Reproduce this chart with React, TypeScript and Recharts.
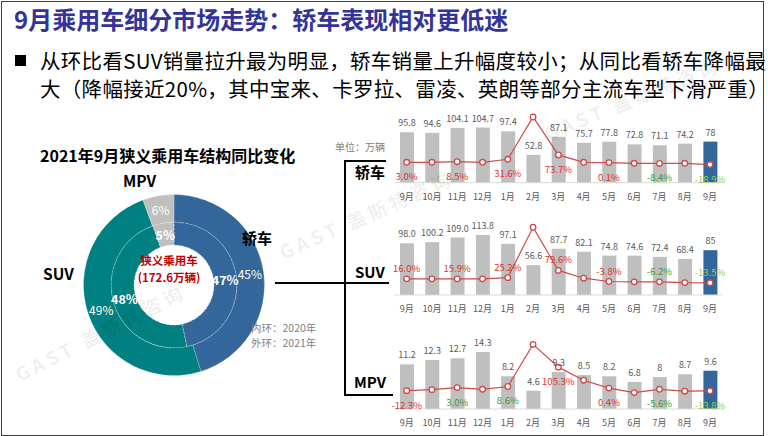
import { ComposedChart, Bar, Line, XAxis, YAxis, LabelList, Cell, PieChart, Pie } from "recharts";

const FONT = '"Noto Sans CJK SC", "Noto Sans", sans-serif';

const months = ["9月", "10月", "11月", "12月", "1月", "2月", "3月", "4月", "5月", "6月", "7月", "8月", "9月"];

// sales, 万辆 (kept as text so the labels read like the source)
const sedanSales = ["95.8", "94.6", "104.1", "104.7", "97.4", "52.8", "87.1", "75.7", "77.8", "72.8", "71.1", "74.2", "78"];
const suvSales = ["98.0", "100.2", "109.0", "113.8", "97.1", "56.6", "87.7", "82.1", "74.8", "74.6", "72.4", "68.4", "85"];
const mpvSales = ["11.2", "12.3", "12.7", "14.3", "8.2", "4.6", "9.3", "8.5", "8.2", "6.8", "8", "8.7", "9.6"];

// yoy growth, %
const sedanYoy = [3.0, 3.0, 8.5, 3.0, 31.6, 438, 73.7, 3.0, 0.1, -6.7, -8.4, -6.7, -18.9];
const suvYoy = [16.0, 16.0, 15.9, 16.0, 25.2, 403, 79.6, 21, -3.8, -6.5, -6.2, -12, -13.5];
const mpvYoy = [-12.3, -7.3, 3.0, -5.6, 8.6, 219, 105.3, 40, 0.4, -22, -5.6, -15, -13.8];

// colour of every second yoy label
const sedanTones = ["red", "red", "red", "red", "red", "green", "lime"];
const suvTones = ["red", "red", "red", "red", "red", "green", "lime"];
const mpvTones = ["red", "green", "green", "red", "red", "green", "lime"];

const pieNames = ["轿车", "SUV", "MPV"];
const pieColors = ["#33669A", "#008080", "#BFBFBF"];

const TONE: Record<string, string> = { red: "#D9342B", green: "#3A9A3A", lime: "#92D050" };
const LINE_RED = "#CC4B4B";

function yoyLabel(tones: string[], above: boolean) {
  return (props: any) => {
    const { x, y, value, index } = props;
    if (index % 2 !== 0) return null;
    return (
      <text
        x={x}
        y={y + (above ? -11 : 14)}
        textAnchor="middle"
        dominantBaseline="central"
        fontSize={9.5}
        fontFamily={FONT}
        fill={TONE[tones[index / 2]]}
      >
        {Number(value).toFixed(1)}%
      </text>
    );
  };
}

function Panel({ plotTop, baseline, sales, yoy, tones, barMax, yoyDomain, above }: any) {
  const rows = months.map((m, i) => ({ month: m, sales: parseFloat(sales[i]), text: sales[i], yoy: yoy[i] }));
  const height = baseline - plotTop + 15 + 25;
  return (
    <div style={{ position: "absolute", left: 370, top: plotTop - 15, width: 370, height }}>
      <ComposedChart width={370} height={height} data={rows} margin={{ top: 15, right: 17.3, bottom: 3, left: 24 }}>
        <XAxis
          dataKey="month"
          interval={0}
          height={22}
          tickLine={false}
          tickMargin={5}
          axisLine={{ stroke: "#D9D9D9" }}
          tick={{ fontSize: 9, fill: "#595959", fontFamily: FONT }}
        />
        <YAxis yAxisId="bar" hide domain={[0, barMax]} />
        <YAxis yAxisId="pct" hide orientation="right" domain={yoyDomain} />
        <Bar yAxisId="bar" dataKey="sales" barSize={14} isAnimationActive={false}>
          {rows.map((_, i) => (
            <Cell key={i} fill={i === rows.length - 1 ? "#33669A" : "#BFBFBF"} />
          ))}
          <LabelList dataKey="text" position="top" offset={6} fontSize={9} fill="#595959" fontFamily={FONT} />
        </Bar>
        <Line
          yAxisId="pct"
          dataKey="yoy"
          stroke={LINE_RED}
          strokeWidth={1.2}
          dot={{ r: 2.8, fill: "#fff", stroke: LINE_RED, strokeWidth: 1.3 }}
          isAnimationActive={false}
        >
          <LabelList dataKey="yoy" content={yoyLabel(tones, above)} />
        </Line>
      </ComposedChart>
    </div>
  );
}

const RADIAN = Math.PI / 180;

function pieLabel(bold: boolean) {
  return (p: any) => {
    const r = (p.innerRadius + p.outerRadius) / 2;
    const x = p.cx + r * Math.cos(-p.midAngle * RADIAN);
    const y = p.cy + r * Math.sin(-p.midAngle * RADIAN);
    return (
      <text
        x={x}
        y={y}
        textAnchor="middle"
        dominantBaseline="central"
        fill="#fff"
        fontSize={bold ? 12.5 : 12}
        fontWeight={bold ? "bold" : "normal"}
        fontFamily={FONT}
      >
        {Math.round(p.percent * 100)}%
      </text>
    );
  };
}

const abs = (s: any) => ({ position: "absolute" as const, ...s });

export default function App() {
  const inner = pieNames.map((n, i) => ({ name: n, value: parseFloat([sedanSales, suvSales, mpvSales][i][0]) }));
  const outer = pieNames.map((n, i) => ({ name: n, value: parseFloat([sedanSales, suvSales, mpvSales][i][12]) }));
  const total = outer.reduce((s, d) => s + d.value, 0);

  const centerText = { color: "#C00000", fontWeight: "bold", fontSize: 11.5, lineHeight: "16px", whiteSpace: "nowrap", width: 100, textAlign: "center" };
  const ringNote = { fontSize: 10.5, color: "#7F7F7F", lineHeight: "15px", whiteSpace: "nowrap" };

  return (
    <div style={{ position: "absolute", left: 0, top: 0, width: 768, height: 436, background: "#fff", fontFamily: FONT, overflow: "hidden" }}>
      <div style={abs({ left: 1, top: 1, width: 761, height: 433, border: "1px solid #404040" })} />

      <div style={abs({ left: 14, top: 4, fontSize: 24, fontWeight: "bold", color: "#33339A", lineHeight: "30px", whiteSpace: "nowrap" })}>
        9月乘用车细分市场走势：轿车表现相对更低迷
      </div>
      <div style={abs({ left: 15, top: 55, width: 11, height: 11, background: "#000" })} />
      <div style={abs({ left: 40, top: 46, fontSize: 20.5, letterSpacing: 0.3, lineHeight: "28px", color: "#000", whiteSpace: "nowrap" })}>
        从环比看SUV销量拉升最为明显，轿车销量上升幅度较小；从同比看轿车降幅最
        <br />
        大（降幅接近20%，其中宝来、卡罗拉、雷凌、英朗等部分主流车型下滑严重）
      </div>

      <div style={abs({ left: 40, top: 144, fontSize: 16, fontWeight: "bold", lineHeight: "22px", whiteSpace: "nowrap" })}>
        2021年9月狭义乘用车结构同比变化
      </div>

      <div style={abs({ left: 60, top: 180, width: 220, height: 200 })}>
        <PieChart width={220} height={200}>
          <Pie
            data={inner}
            dataKey="value"
            cx={109}
            cy={100}
            innerRadius={40}
            outerRadius={63}
            startAngle={90}
            endAngle={-270}
            stroke="rgba(255,255,255,0.55)"
            strokeWidth={0.8}
            strokeDasharray="2 2"
            labelLine={false}
            label={pieLabel(true)}
            isAnimationActive={false}
          >
            {inner.map((_, i) => (
              <Cell key={i} fill={pieColors[i]} />
            ))}
          </Pie>
          <Pie
            data={outer}
            dataKey="value"
            cx={109}
            cy={100}
            innerRadius={63}
            outerRadius={90.5}
            startAngle={90}
            endAngle={-270}
            stroke="rgba(255,255,255,0.35)"
            strokeWidth={0.6}
            labelLine={false}
            label={pieLabel(false)}
            isAnimationActive={false}
          >
            {outer.map((_, i) => (
              <Cell key={i} fill={pieColors[i]} />
            ))}
          </Pie>
        </PieChart>
      </div>
      <div style={abs({ left: 119, top: 252, ...centerText })}>狭义乘用车</div>
      <div style={abs({ left: 119, top: 268.5, ...centerText })}>({total.toFixed(1)}万辆)</div>
      <div style={abs({ left: 123, top: 169, fontSize: 15.5, fontWeight: "bold", lineHeight: "22px" })}>MPV</div>
      <div style={abs({ left: 242, top: 227, fontSize: 15, fontWeight: "bold", lineHeight: "22px" })}>轿车</div>
      <div style={abs({ left: 43, top: 262, fontSize: 15.5, fontWeight: "bold", lineHeight: "22px" })}>SUV</div>
      <div style={abs({ left: 251, top: 319.5, ...ringNote })}>内环：2020年</div>
      <div style={abs({ left: 251, top: 334.5, ...ringNote })}>外环：2021年</div>

      <div style={abs({ left: 335, top: 140, fontSize: 10, color: "#7F7F7F", lineHeight: "14px", whiteSpace: "nowrap" })}>单位：万辆</div>

      {/* bracket */}
      <div style={abs({ left: 344, top: 160, width: 2, height: 236, background: "#000" })} />
      <div style={abs({ left: 344, top: 160, width: 42, height: 2, background: "#000" })} />
      <div style={abs({ left: 275, top: 282, width: 114, height: 2, background: "#000" })} />
      <div style={abs({ left: 344, top: 394, width: 49, height: 2, background: "#000" })} />
      <div style={abs({ left: 355, top: 161, fontSize: 15, fontWeight: "bold", lineHeight: "22px" })}>轿车</div>
      <div style={abs({ left: 355, top: 261, fontSize: 15, fontWeight: "bold", lineHeight: "22px" })}>SUV</div>
      <div style={abs({ left: 354, top: 371, fontSize: 15, fontWeight: "bold", lineHeight: "22px" })}>MPV</div>

      <Panel plotTop={115} baseline={182.7} sales={sedanSales} yoy={sedanYoy} tones={sedanTones} barMax={128.5} yoyDomain={[-193, 457]} above={false} />
      <Panel plotTop={225} baseline={295} sales={suvSales} yoy={suvYoy} tones={suvTones} barMax={132.8} yoyDomain={[-105, 420]} above={true} />
      <Panel plotTop={340} baseline={409} sales={mpvSales} yoy={mpvYoy} tones={mpvTones} barMax={17.3} yoyDomain={[-104, 241]} above={false} />

      <svg width={768} height={436} style={abs({ left: 0, top: 0, pointerEvents: "none" })}>
        {[
          [100, 332, -27],
          [366, 214, -24],
          [632, 98, -22],
        ].map(([x, y, a], i) => (
          <text
            key={i}
            x={x}
            y={y}
            transform={`rotate(${a} ${x} ${y})`}
            textAnchor="middle"
            dominantBaseline="central"
            fontSize={19}
            fontWeight="bold"
            fontFamily={FONT}
            fill="#000"
            fillOpacity={0.07}
            letterSpacing={4}
          >
            GAST 盖斯特咨询
          </text>
        ))}
      </svg>
    </div>
  );
}
